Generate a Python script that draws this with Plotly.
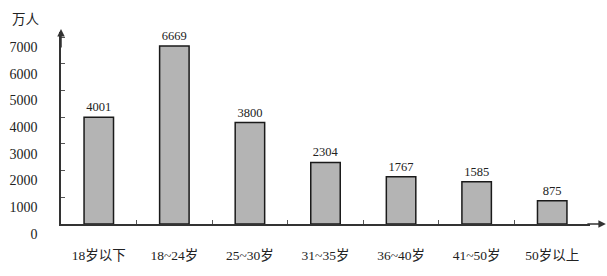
import plotly.graph_objects as go

categories = ["18岁以下", "18~24岁", "25~30岁", "31~35岁", "36~40岁", "41~50岁", "50岁以上"]
values = [4001, 6669, 3800, 2304, 1767, 1585, 875]
y_ticks = [0, 1000, 2000, 3000, 4000, 5000, 6000, 7000]
unit_label = "万人"

FONT = "Times New Roman, Liberation Serif, DejaVu Serif, Noto Sans CJK SC, serif"

fig = go.Figure()
fig.add_trace(go.Bar(
    x=categories, y=values,
    width=0.39,
    marker=dict(color="#b4b4b4", line=dict(color="#1a1a1a", width=1.5)),
    text=[str(v) for v in values], textposition="outside",
    textfont=dict(family=FONT, size=12.5, color="#222"),
    cliponaxis=False,
))

fig.update_layout(
    width=607, height=276,
    margin=dict(l=61, r=17, t=32, b=52),
    plot_bgcolor="white", paper_bgcolor="white",
    showlegend=False,
    font=dict(family=FONT, size=13, color="#222"),
    xaxis=dict(
        type="category", range=[-0.5, 6.5], automargin=False,
        showline=True, linecolor="#333", linewidth=1.5,
        ticks="inside", ticklen=4, tickcolor="#555", tickson="boundaries",
        ticklabelstandoff=18, showgrid=False, zeroline=False,
        tickfont=dict(family=FONT, size=13.5, color="#222"),
    ),
    yaxis=dict(
        range=[0, 7190], tickvals=y_ticks, automargin=False,
        showline=True, linecolor="#333", linewidth=1.5,
        ticks="inside", ticklen=4, tickcolor="#555",
        showgrid=False, zeroline=False,
        ticklabelstandoff=19, ticklabelshift=10,
        tickfont=dict(family=FONT, size=14, color="#222"),
    ),
)

# axis arrows
fig.add_annotation(x=1.03, y=0, xref="paper", yref="paper", ax=-20, ay=0,
                   showarrow=True, arrowhead=2,
                   arrowsize=1, arrowwidth=1.5, arrowcolor="#333", text="")
fig.add_annotation(x=0, y=1.015, xref="paper", yref="paper", ax=0, ay=20,
                   showarrow=True, arrowhead=2, arrowsize=1, arrowwidth=1.5,
                   arrowcolor="#333", text="")
fig.add_annotation(x=-0.067, y=1.065, xref="paper", yref="paper", text=unit_label,
                   xanchor="center", yanchor="middle",
                   showarrow=False, font=dict(family=FONT, size=13.5, color="#222"))

fig.write_html("out.html")
